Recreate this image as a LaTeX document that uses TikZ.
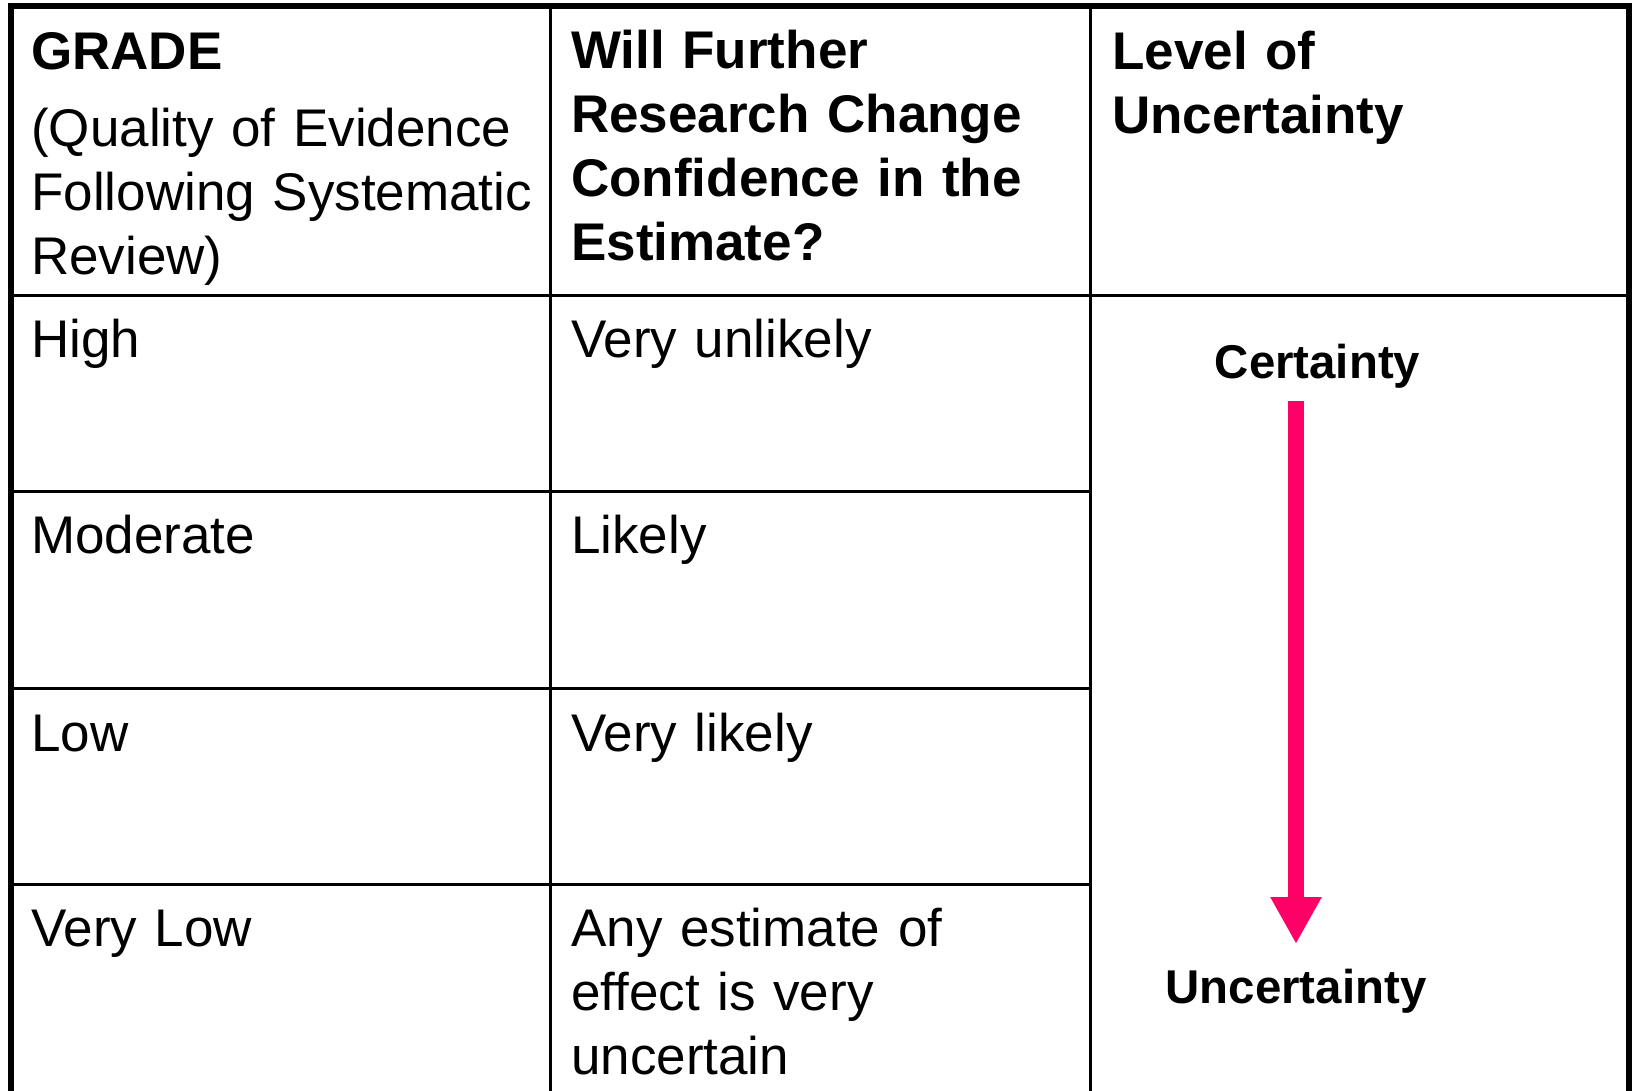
\documentclass[tikz,border=0pt]{standalone}
\usepackage{fontspec}
\setmainfont{Liberation Sans}
\usetikzlibrary{arrows.meta}
\definecolor{arrowpink}{RGB}{255,0,102}
\begin{document}
\begin{tikzpicture}[x=1pt,y=-1pt,
  cell/.style={anchor=base west, inner sep=0pt, text width=#1, align=left,
    font=\fontsize{53}{64}\selectfont},
  cell/.default=525pt,
  hcell/.style={cell=#1, font=\fontsize{53}{64}\selectfont\bfseries},
  hcell/.default=525pt,
  lvl/.style={anchor=base, inner sep=0pt, font=\fontsize{47.4}{56}\selectfont\bfseries},
  thin/.style={line width=3pt, black},
  outer/.style={line width=6pt, black},
  bigarrow/.style={line width=16pt, arrowpink, -{Triangle[length=47pt,width=48pt]}}]
\useasboundingbox (0,0) rectangle (1632,1091);
\fill[white] (0,0) rectangle (1632,1091);
% grid lines
\draw[thin] (550,6) -- (550,1100);
\draw[thin] (1090,6) -- (1090,1100);
\draw[thin] (10,295.5) -- (1628,295.5);
\draw[thin] (10,491.5) -- (1090,491.5);
\draw[thin] (10,688) -- (1090,688);
\draw[thin] (10,884.5) -- (1090,884.5);
\draw[outer] (10.5,1100) -- (10.5,6) -- (1628.5,6) -- (1628.5,1100);
% header
\node[cell] (h1) at (31,69.5) {\textbf{GRADE}\\[13.5pt](Quality of Evidence\\Following Systematic\\Review)};
\node[hcell] (h2) at (571,69) {Will Further\\Research Change\\Confidence in the\\Estimate?};
\node[hcell] (h3) at (1112,70) {Level of\\Uncertainty};
% body
\node[cell] (r1a) at (31,357) {High};
\node[cell] (r1b) at (571,357) {Very unlikely};
\node[cell] (r2a) at (31,553) {Moderate};
\node[cell] (r2b) at (571,553) {Likely};
\node[cell] (r3a) at (31,751) {Low};
\node[cell] (r3b) at (571,751) {Very likely};
\node[cell] (r4a) at (31,946) {Very Low};
\node[cell] (r4b) at (571,946) {Any estimate of\\effect is very\\uncertain};
% level column
\node[lvl] (cert) at (1317.5,378.5) {Certainty};
\node[lvl] (uncert) at (1296,1003) {Uncertainty};
\coordinate (astart) at (1296,401);
\coordinate (aend) at (1296,944);
\draw[bigarrow] (astart) -- (aend);
\end{tikzpicture}
\end{document}
